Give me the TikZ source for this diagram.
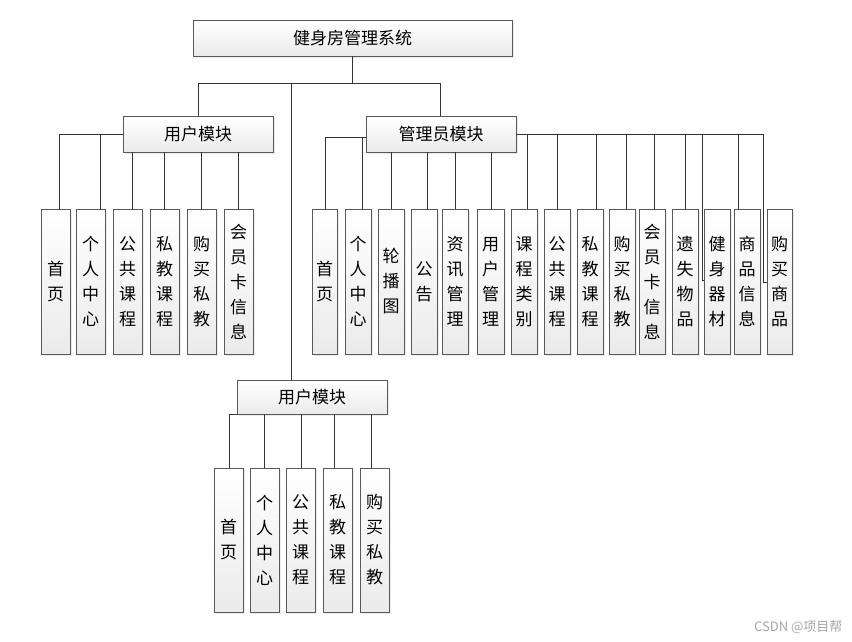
\documentclass[tikz,border=0pt]{standalone}
\usepackage{fontspec}
\setmainfont{Noto Sans CJK SC}
\usetikzlibrary{shadows}
\begin{document}
\begin{tikzpicture}[x=1pt,y=-1pt,
  bx/.style={draw=black!65,line width=0.9pt,top color=white,bottom color=black!8,
    drop shadow={shadow xshift=2pt,shadow yshift=-2pt,fill=black!15}},
  ln/.style={draw=black!80,line width=0.9pt},
  lbl/.style={font=\fontsize{17}{25}\selectfont,align=center,inner sep=0pt}]
\useasboundingbox (0,0) rectangle (852,642);
\newcommand{\mybox}[6]{% name x1 y1 x2 y2 text
  \path[bx] (#2,#3) rectangle (#4,#5);
  \node[lbl] (#1) at ({(#2+#4)/2},{(#3+#5)/2}) {#6};}
\mybox{top}{193}{20}{512}{56}{健身房管理系统}
\mybox{u1}{123}{116}{273}{152}{用户模块}
\mybox{adm}{366}{116}{516}{152}{管理员模块}
\mybox{u2}{237}{380}{387}{414}{用户模块}
% trunk
\draw[ln] (352,56) -- (352,83);
\draw[ln] (198,83) -- (440,83);
\draw[ln] (198,83) -- (198,116);
\draw[ln] (440,83) -- (440,116);
\draw[ln] (291,83) -- (291,380);
% user module 1
\foreach \a/\b/\t [count=\i] in {41/70/首\\页,76/105/个\\人\\中\\心,113/142/公\\共\\课\\程,150/179/私\\教\\课\\程,187/216/购\\买\\私\\教,224/253/会\\员\\卡\\信\\息}{
  \mybox{ua\i}{\a}{209}{\b}{354}{\t}}
\draw[ln] (123,134) -- (59,134) -- (59,209);
\draw[ln] (100,134) -- (100,209);
\foreach \x in {132,164,201,238} \draw[ln] (\x,152) -- (\x,209);
% admin
\foreach \a/\b/\t [count=\i] in {312/337/首\\页,345/371/个\\人\\中\\心,378/404/轮\\播\\图,411/437/公\\告,442/468/资\\讯\\管\\理,477/504/用\\户\\管\\理,511/537/课\\程\\类\\别,544/570/公\\共\\课\\程,577/603/私\\教\\课\\程,609/635/购\\买\\私\\教,639/665/会\\员\\卡\\信\\息,672/698/遗\\失\\物\\品,704/730/健\\身\\器\\材,734/760/商\\品\\信\\息,767/792/购\\买\\商\\品}{
  \mybox{ad\i}{\a}{209}{\b}{354}{\t}}
\draw[ln] (366,137) -- (325,137) -- (325,209);
\draw[ln] (362,137) -- (362,209);
\foreach \x in {391,427,455,491} \draw[ln] (\x,152) -- (\x,209);
\draw[ln] (516,134) -- (763,134);
\foreach \x in {527,557,596,626,654,685,738} \draw[ln] (\x,134) -- (\x,209);
\draw[ln] (702,134) -- (702,280) -- (704,280);
\draw[ln] (763,134) -- (763,282) -- (767,282);
% user module 2
\foreach \a/\b/\t [count=\i] in {214/243/首\\页,250/279/个\\人\\中\\心,286/315/公\\共\\课\\程,323/352/私\\教\\课\\程,360/389/购\\买\\私\\教}{
  \mybox{ub\i}{\a}{468}{\b}{612}{\t}}
\draw[ln] (237,414) -- (229,414) -- (229,468);
\foreach \x in {264,301,334,371} \draw[ln] (\x,414) -- (\x,468);
\node[font=\fontsize{13}{15}\selectfont,text=black!35,anchor=east] (wm) at (846,627) {CSDN @项目帮};
\end{tikzpicture}
\end{document}
